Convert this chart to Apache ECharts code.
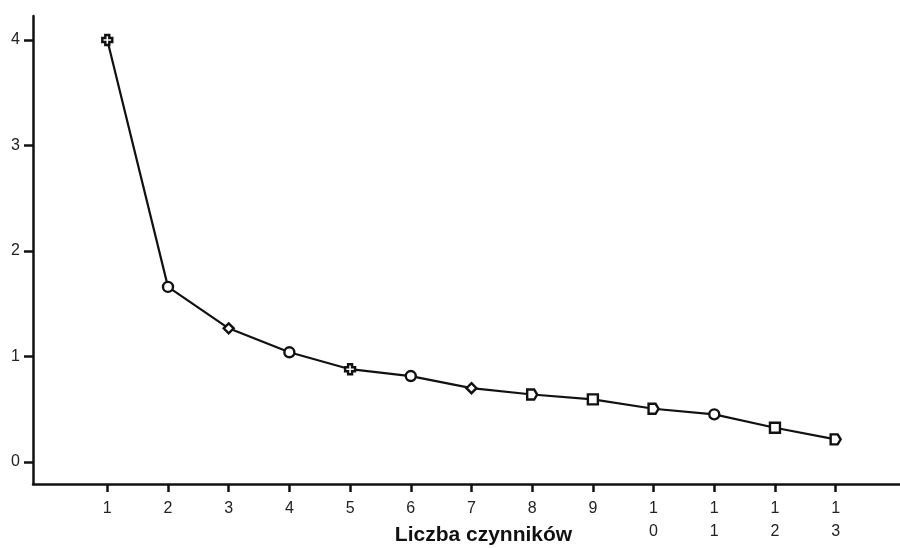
<!DOCTYPE html>
<html>
<head>
<meta charset="utf-8">
<script src="https://cdn.jsdelivr.net/npm/echarts@6/dist/echarts.min.js"></script>
<style>
  html, body { margin: 0; padding: 0; background: #fff; }
  #chart { width: 900px; height: 548px; }
</style>
</head>
<body>
<div id="chart"></div>
<script>
// scree plot values
const factors = [1, 2, 3, 4, 5, 6, 7, 8, 9, 10, 11, 12, 13];
const eigenvalues = [4.0, 1.66, 1.267, 1.04, 0.88, 0.815, 0.70, 0.64, 0.594, 0.505, 0.452, 0.325, 0.215];
const yTicks = [0, 1, 2, 3, 4];
const xTitle = 'Liczba czynników';

// marker shapes, mixed like the original printout
const plus = 'path://M3,0 L7,0 L7,3 L10,3 L10,7 L7,7 L7,10 L3,10 L3,7 L0,7 L0,3 L3,3 Z';
const pentagon = 'path://M0,0 L7,0 L10,5 L7,10 L0,10 Z';
const shapes = [plus, 'circle', 'diamond', 'circle', plus, 'circle', 'diamond', pentagon, 'rect', pentagon, 'circle', 'rect', pentagon];

const chart = echarts.init(document.getElementById('chart'));

const font = 'Liberation Sans, Arial, sans-serif';

chart.setOption({
  animation: false,
  backgroundColor: '#fff',
  grid: { left: 33, right: 0, top: 16, bottom: 64, containLabel: false, outerBoundsMode: 'none' },
  xAxis: {
    type: 'value',
    min: -0.224,
    max: 14.06,
    interval: 1,
    name: xTitle,
    nameLocation: 'middle',
    nameGap: 41,
    nameMoveOverlap: false,
    nameTextStyle: {
      fontFamily: font, fontSize: 21, fontWeight: 'bold', color: '#111',
      padding: [0, 0, 0, 34]
    },
    axisLine: { onZero: false, lineStyle: { color: '#111', width: 2.5 } },
    axisTick: {
      show: true, length: 8, lineStyle: { color: '#111', width: 2.5 },
      customValues: factors
    },
    axisLabel: {
      customValues: factors,
      margin: 13,
      fontFamily: font,
      fontSize: 16,
      color: '#222',
      lineHeight: 23,
      formatter: v => String(v).split('').join('\n')
    },
    splitLine: { show: false }
  },
  yAxis: {
    type: 'value',
    min: -0.208,
    max: 4.227,
    axisLine: { show: true, onZero: false, lineStyle: { color: '#111', width: 2.5 } },
    axisTick: {
      show: true, length: 9, lineStyle: { color: '#111', width: 2.5 },
      customValues: yTicks
    },
    axisLabel: {
      customValues: yTicks,
      margin: 13,
      fontFamily: font,
      fontSize: 16,
      color: '#222'
    },
    splitLine: { show: false }
  },
  series: [{
    type: 'line',
    data: factors.map((f, i) => ({
      value: [f, eigenvalues[i]],
      symbol: shapes[i]
    })),
    symbolSize: 10,
    showAllSymbol: true,
    lineStyle: { color: '#111', width: 2.2 },
    itemStyle: { color: '#fff', borderColor: '#111', borderWidth: 2.4 },
    z: 3
  }]
});
</script>
</body>
</html>
